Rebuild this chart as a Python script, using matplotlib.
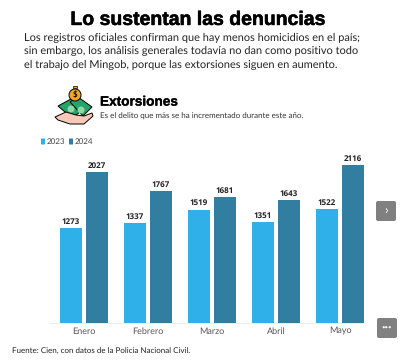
import matplotlib
matplotlib.use("Agg")
import matplotlib.pyplot as plt
import matplotlib.patheffects as pe
from matplotlib.patches import FancyBboxPatch, Polygon, Circle, Rectangle
import numpy as np

months = ["Enero", "Febrero", "Marzo", "Abril", "Mayo"]
values_2023 = [1273, 1337, 1519, 1351, 1522]
values_2024 = [2027, 1767, 1681, 1643, 2116]

color_2023 = "#30b0e8"
color_2024 = "#317ea0"

plt.rcParams['font.family'] = ['Lato', 'DejaVu Sans']
plt.rcParams['text.hinting'] = 'none'
plt.rcParams['text.hinting_factor'] = 1
heavy = ["Liberation Sans", "DejaVu Sans"]

fig = plt.figure(figsize=(4, 3.6), dpi=100)

# overlay in pixel coordinates for the text and icon
bg = fig.add_axes([0, 0, 1, 1])
bg.set_xlim(0, 400)
bg.set_ylim(360, 0)
bg.axis("off")

# chart area, pixels: x 50-364, y 150-323
ax = fig.add_axes([50 / 400, (360 - 323) / 360, 314 / 400, 173 / 360])
x = np.arange(len(months))
w = 0.344
off = 0.203
ax.bar(x - off, values_2023, w, color=color_2023)
ax.bar(x + off, values_2024, w, color=color_2024)
ax.set_xlim(-0.53, 4.375)
ax.set_ylim(0, 2317)
ax.patch.set_alpha(0)
for s in ["top", "left", "right"]:
    ax.spines[s].set_visible(False)
ax.spines["bottom"].set_color("#e8eef0")
ax.spines["bottom"].set_linewidth(0.7)
ax.set_yticks([])
ax.set_xticks(x)
ax.set_xticklabels(months, fontsize=6.2, color="#555555")
ax.tick_params(axis="x", length=0, pad=3)

for i in range(len(months)):
    ax.text(x[i] - off, values_2023[i] + 30, str(values_2023[i]), ha="center", va="bottom",
            fontsize=5.6, fontweight="bold", color="#222222", family=["Open Sans", "DejaVu Sans"])
    ax.text(x[i] + off, values_2024[i] + 30, str(values_2024[i]), ha="center", va="bottom",
            fontsize=5.6, fontweight="bold", color="#222222", family=["Open Sans", "DejaVu Sans"])

# title and intro
bg.text(195, 20, "Lo sustentan las denuncias", ha="center", va="center", fontsize=14,
        fontweight="bold", color="black", family=heavy,
        path_effects=[pe.withStroke(linewidth=0.4, foreground="black")])
intro = ["Los registros oficiales confirman que hay menos homicidios en el país;",
         "sin embargo, los análisis generales todavía no dan como positivo todo",
         "el trabajo del Mingob, porque las extorsiones siguen en aumento."]
for yy, line in zip([38, 51, 65], intro):
    bg.text(24, yy, line, ha="left", va="center", fontsize=7.93, color="#222222")

# header of the chart
bg.text(100, 102, "Extorsiones", ha="left", va="center", fontsize=9.8, fontweight="bold",
        color="black", family=heavy,
        path_effects=[pe.withStroke(linewidth=0.2, foreground="black")])
bg.text(100, 116, "Es el delito que más se ha incrementado durante este año.", ha="left",
        va="center", fontsize=6.05, color="#333333")

# legend
bg.add_patch(FancyBboxPatch((41.5, 139), 3, 5, boxstyle="round,pad=0.5", fc=color_2023, ec="none"))
bg.text(47, 141.5, "2023", ha="left", va="center", fontsize=6, color="#444444")
bg.add_patch(FancyBboxPatch((69.5, 139), 3, 5, boxstyle="round,pad=0.5", fc=color_2024, ec="none"))
bg.text(75, 141.5, "2024", ha="left", va="center", fontsize=6, color="#444444")

# money icon
bg.add_patch(Polygon([(58, 106), (71, 99), (84, 109), (72, 118)], fc="#27a468", ec="black", lw=0.7))
bg.add_patch(Polygon([(70, 102), (78, 97), (92, 107), (83, 116)], fc="#27a468", ec="black", lw=0.7))
bg.add_patch(Circle((71, 109), 3.5, fc="#8fd8a8", ec="none"))
bg.add_patch(Circle((81, 110), 3.5, fc="#8fd8a8", ec="none"))
bg.add_patch(Polygon([(55, 117), (66, 112), (76, 115), (84, 116), (92, 113), (93, 116),
                      (84, 124), (70, 124), (58, 120)], fc="#f8c8b8", ec="black", lw=0.7))
bg.add_patch(Circle((75, 95), 6, fc="#f5a623", ec="black", lw=0.7))
bg.text(75, 95, "$", ha="center", va="center", fontsize=6, fontweight="bold", color="black")
bg.add_patch(Rectangle((73, 86), 4, 2, fc="#f5a623", ec="black", lw=0.5))

# side buttons
bg.add_patch(FancyBboxPatch((378, 203), 16, 16, boxstyle="round,pad=2", fc="#808080", ec="none"))
bg.text(386, 210.5, "›", ha="center", va="center", fontsize=9, color="white")
bg.add_patch(FancyBboxPatch((379, 320), 16, 16, boxstyle="round,pad=2", fc="#808080", ec="none"))
bg.text(387, 328, "•••", ha="center", va="center", fontsize=4, color="white")

# source
bg.text(12, 351, "Fuente: Cien, con datos de la Policía Nacional Civil.", ha="left", va="center",
        fontsize=5.6, color="#222222")

fig.savefig("out.png", dpi=100)
